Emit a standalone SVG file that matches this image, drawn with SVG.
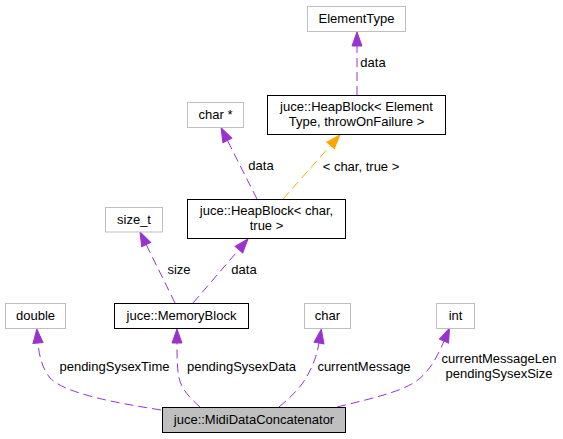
<svg xmlns="http://www.w3.org/2000/svg" width="563" height="439" viewBox="0 0 563 439">
<style>
text { font-family: "Liberation Sans", Arial, sans-serif; font-size: 13px; fill: #000; }
.n { text-anchor: middle; }
.ext { fill: #fff; stroke: #bfbfbf; stroke-width: 1; }
.doc { fill: #fff; stroke: #000; stroke-width: 1; }
.cur { fill: #bfbfbf; stroke: #000; stroke-width: 1; }
.e { fill: none; stroke: #9a32cd; stroke-width: 1; stroke-dasharray: 9,5; marker-end: url(#ap); }
.t { fill: none; stroke: #ffa500; stroke-width: 1; stroke-dasharray: 9,5; marker-end: url(#ao); }
</style>
<defs>
<marker id="ap" markerUnits="userSpaceOnUse" markerWidth="16" markerHeight="12" refX="0" refY="5" orient="auto" viewBox="0 -1 16 12" overflow="visible">
<path d="M0,0 L14,5 L0,10 z" fill="#9a32cd" stroke="#9a32cd" stroke-width="1"/>
</marker>
<marker id="ao" markerUnits="userSpaceOnUse" markerWidth="16" markerHeight="12" refX="0" refY="5" orient="auto" viewBox="0 -1 16 12" overflow="visible">
<path d="M0,0 L14,5 L0,10 z" fill="#ffa500" stroke="#ffa500" stroke-width="1"/>
</marker>
</defs>
<rect width="563" height="439" fill="#fff"/>

<g id="connectors">
<path class="e" d="M357,95 L357,46"/>
<text x="373" y="67" class="n">data</text>
<path class="e" d="M257,199 L227.4,140.4"/>
<text x="261" y="170" class="n">data</text>
<path class="t" d="M283,199 L330.6,145.4"/>
<text x="361" y="171" class="n">&lt; char, true &gt;</text>
<path class="e" d="M175,303 L146.2,244.6"/>
<text x="179" y="274" class="n">size</text>
<path class="e" d="M193,303 L238.9,249.6"/>
<text x="244" y="274" class="n">data</text>
<path class="e" d="M161,410 C110,402 65,393 50,378 C42,368 39,355 38,343"/>
<text x="114.5" y="371" class="n">pendingSysexTime</text>
<path class="e" d="M200,407 C190,398 182,390 179,378 C177,368 177,355 177,343"/>
<text x="241.5" y="371" class="n">pendingSysexData</text>
<path class="e" d="M279,407 C290,398 300,388 306,378 C313,366 317,355 319,343"/>
<text x="364" y="371" class="n">currentMessage</text>
<path class="e" d="M337,407 C370,399 400,392 415,382 C430,372 438,355 444,341"/>
<text x="499" y="363" class="n">currentMessageLen</text>
<text x="499" y="378" class="n">pendingSysexSize</text>
</g>

<g id="ElementType">
<rect class="ext" x="307.5" y="6.5" width="98" height="25"/>
<text x="356.5" y="23" class="n">ElementType</text>
</g>
<g id="HeapBlockElementType">
<rect class="doc" x="267.5" y="95.5" width="178" height="39"/>
<text x="356.5" y="110.5" class="n">juce::HeapBlock&lt; Element</text>
<text x="356.5" y="125.5" class="n">Type, throwOnFailure &gt;</text>
</g>
<g id="charptr">
<rect class="ext" x="187.5" y="102.5" width="56" height="25"/>
<text x="215.5" y="119" class="n">char *</text>
</g>
<g id="HeapBlockChar">
<rect class="doc" x="187.5" y="199.5" width="158" height="39"/>
<text x="266.5" y="214.5" class="n">juce::HeapBlock&lt; char,</text>
<text x="266.5" y="229.5" class="n">true &gt;</text>
</g>
<g id="size_t">
<rect class="ext" x="105.5" y="207.5" width="57" height="24.5"/>
<text x="134" y="224" class="n">size_t</text>
</g>
<g id="MemoryBlock">
<rect class="doc" x="114.5" y="303.5" width="134" height="25"/>
<text x="181.5" y="320" class="n">juce::MemoryBlock</text>
</g>
<g id="double">
<rect class="ext" x="5.5" y="303.5" width="60" height="25"/>
<text x="35.5" y="320" class="n">double</text>
</g>
<g id="char">
<rect class="ext" x="304.5" y="303.5" width="46" height="25"/>
<text x="327.5" y="320" class="n">char</text>
</g>
<g id="int">
<rect class="ext" x="436.5" y="303.5" width="38" height="25"/>
<text x="455.5" y="320" class="n">int</text>
</g>
<g id="MidiDataConcatenator">
<rect class="cur" x="162.5" y="407.5" width="183" height="25"/>
<text x="254" y="424" class="n">juce::MidiDataConcatenator</text>
</g>
</svg>
